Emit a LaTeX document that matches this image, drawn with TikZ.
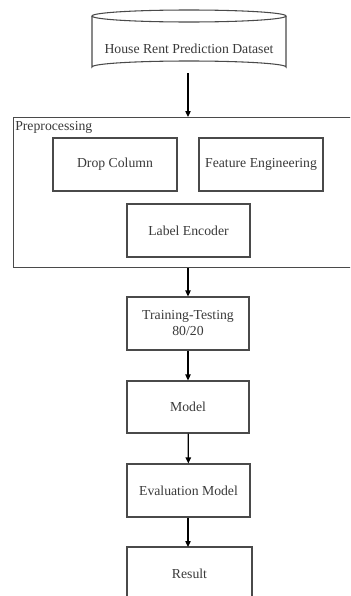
\documentclass[tikz,border=0pt]{standalone}
\usepackage{fontspec}
\setmainfont{Liberation Serif}
\usetikzlibrary{arrows.meta}
\definecolor{txt}{HTML}{3A3A3A}
\definecolor{ln}{HTML}{4A4A4A}
\tikzset{
  px/.style={x=0.75pt,y=-0.75pt},
  lbl/.style={text=txt,font=\fontsize{10.3}{12}\selectfont},
  procbox/.style={draw=ln,line width=0.8pt,rectangle,inner sep=0pt,lbl,align=center},
  flow/.style={draw=black,line width=0.9pt,-{Triangle[length=4.5pt,width=4pt]}}
}
\begin{document}
\begin{tikzpicture}[px]
\useasboundingbox (0,0) rectangle (350,596);
\clip (0,0) rectangle (350,596);
\fill[white] (0,0) rectangle (350,596);
% cylinder
\draw[ln,line width=0.8pt] (92,16) -- (92,67) arc[start angle=180,end angle=360,x radius=97,y radius=6] -- (286,16);
\draw[ln,line width=0.8pt] (189,16) ellipse[x radius=97,y radius=6];
\node[lbl] (ds) at (189,49) {House Rent Prediction Dataset};
\coordinate (dsb) at (188,73);
% preprocessing container
\node[draw=ln,line width=0.8pt,rectangle,minimum width=345pt*0.75,minimum height=150pt*0.75,anchor=north west,inner sep=0pt] (pre) at (13,117) {};
\node[lbl,anchor=north west,inner sep=0pt] (prel) at (15,121) {Preprocessing};
\node[procbox,minimum width=124*0.75pt,minimum height=53*0.75pt] (drop) at (115,164.5) {Drop Column};
\node[procbox,minimum width=124*0.75pt,minimum height=53*0.75pt] (feat) at (261,164.5) {Feature Engineering};
\node[procbox,minimum width=123*0.75pt,minimum height=53*0.75pt] (lab) at (188.5,230.5) {Label Encoder};
% flow boxes
\node[procbox,minimum width=122*0.75pt,minimum height=53*0.75pt] (tt) at (188,323.5) {Training-Testing\\80/20};
\node[procbox,minimum width=122*0.75pt,minimum height=52*0.75pt] (model) at (188,407) {Model};
\node[procbox,minimum width=123*0.75pt,minimum height=53*0.75pt] (eval) at (188.5,490.5) {Evaluation Model};
\node[procbox,minimum width=125*0.75pt,minimum height=53*0.75pt] (res) at (189.5,573.5) {Result};
% arrows
\draw[flow] (dsb) -- (dsb |- pre.north);
\draw[flow] (pre.south -| tt.north) -- (tt.north);
\draw[flow] (tt) -- (model);
\draw[flow] (model) -- (eval);
\draw[flow] (eval.south -| 188,0) -- (188,547);
\end{tikzpicture}
\end{document}
